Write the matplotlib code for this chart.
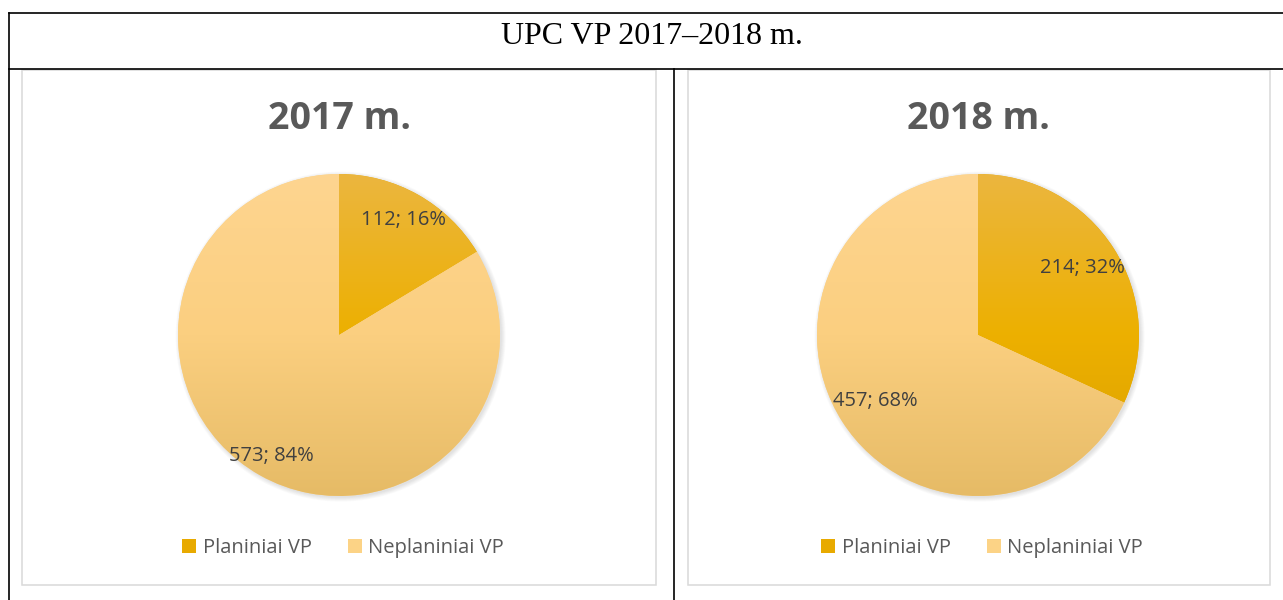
import matplotlib
matplotlib.use("Agg")
import matplotlib.pyplot as plt
import matplotlib.lines as lines
import matplotlib.patches as patches
from matplotlib.colors import LinearSegmentedColormap
import numpy as np

# data
table_title = "UPC VP 2017–2018 m."
chart_titles = ["2017 m.", "2018 m."]
categories = ["Planiniai VP", "Neplaniniai VP"]
values_2017 = [112, 573]
values_2018 = [214, 457]

W, H = 1283, 600
fig = plt.figure(figsize=(W / 100, H / 100), dpi=100)
fig.patch.set_facecolor("white")


def fx(x):
    return x / W


def fy(y):
    return 1 - y / H


def line(x0, y0, x1, y1, **kw):
    fig.add_artist(lines.Line2D([fx(x0), fx(x1)], [fy(y0), fy(y1)], transform=fig.transFigure, **kw))


def rect(x0, y0, x1, y1, **kw):
    fig.add_artist(patches.Rectangle((fx(x0), fy(y1)), fx(x1) - fx(x0), fy(y0) - fy(y1),
                                     transform=fig.transFigure, fill=False, **kw))


# chart area boxes (light gray)
rect(22, 70, 656, 585, edgecolor="#d9d9d9", linewidth=1.1)
rect(688, 70, 1270, 585, edgecolor="#d9d9d9", linewidth=1.1)

# table frame
blk = dict(color="black", linewidth=1.2)
line(9, 13, W, 13, **blk)
line(9, 69, W, 69, **blk)
line(9, 13, 9, H, **blk)
line(674, 69, 674, H, **blk)

fig.text(fx(652), fy(37), table_title, family="Liberation Serif", fontsize=23,
         ha="center", va="center", color="black")

cmaps = [
    LinearSegmentedColormap.from_list("plan", ["#d9a000", "#edb000", "#ebb63f"]),
    LinearSegmentedColormap.from_list("nepl", ["#e6bb66", "#fbcf80", "#fed590"]),
]
legend_colors = ["#e8aa00", "#fcd386"]


def draw_pie(cx, cy, r, title, values, label_dist):
    pad = 1.1
    ax = fig.add_axes([fx(cx - r * pad), fy(cy + r * pad), 2 * r * pad / W, 2 * r * pad / H])
    # soft shadow
    for k in range(6):
        ax.add_patch(patches.Circle((0.01, -0.01), 1.0 + 0.005 * k, color="#000000",
                                    alpha=0.02, zorder=0, linewidth=0))
    total = sum(values)
    wedges, _, autotexts = ax.pie(
        values, startangle=90, counterclock=False, radius=1.0,
        colors=legend_colors,
        autopct=lambda p: "%d; %d%%" % (round(p * total / 100), round(p)),
        textprops=dict(family="Open Sans", fontsize=14.5, color="#404040"),
        wedgeprops=dict(linewidth=0),
    )
    grad = np.linspace(0, 1, 256).reshape(-1, 1)
    for w, cm, t, d in zip(wedges, cmaps, autotexts, label_dist):
        im = ax.imshow(grad, cmap=cm, extent=(-1, 1, -1, 1), origin="lower",
                       aspect="auto", zorder=1)
        im.set_clip_path(w)
        mid = np.deg2rad((w.theta1 + w.theta2) / 2)
        t.set_position((d * np.cos(mid), d * np.sin(mid)))
        t.set_zorder(3)
    ax.set_xlim(-pad, pad)
    ax.set_ylim(-pad, pad)
    ax.set_axis_off()
    fig.text(fx(cx), fy(119), title, family="Open Sans", fontweight="bold",
             fontsize=27, color="#595959", ha="center", va="center")
    handles = [patches.Patch(facecolor=c, edgecolor="none") for c in legend_colors]
    fig.legend(handles, categories, loc="center", bbox_to_anchor=(fx(cx + 4), fy(548)),
               ncol=2, frameon=False, handlelength=0.7, handleheight=0.7,
               handletextpad=0.3, columnspacing=1.8,
               prop=dict(family="Open Sans", size=14.5), labelcolor="#595959")


draw_pie(339, 335, 161, chart_titles[0], values_2017, [0.82, 0.86])
draw_pie(978, 335, 161, chart_titles[1], values_2018, [0.77, 0.76])

fig.savefig("out.png", dpi=100)
